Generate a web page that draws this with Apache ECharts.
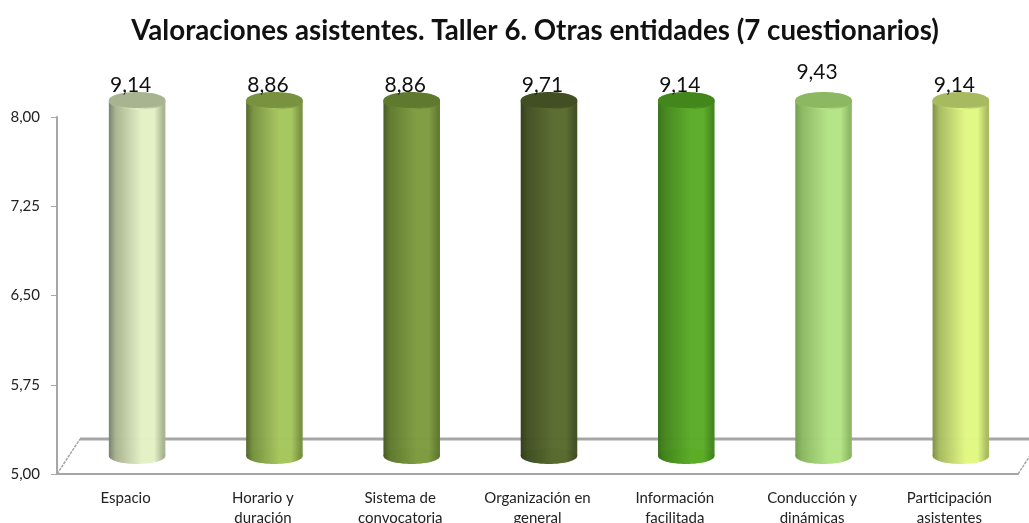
<!DOCTYPE html>
<html>
<head>
<meta charset="utf-8">
<style>
  html, body { margin: 0; padding: 0; background: #fff; }
  #chart { width: 1029px; height: 523px; }
</style>
<script src="https://cdn.jsdelivr.net/npm/echarts@6/dist/echarts.min.js"></script>
</head>
<body>
<div id="chart"></div>
<script>
const categories = ['Espacio', 'Horario y\nduración', 'Sistema de\nconvocatoria', 'Organización en\ngeneral',
  'Información\nfacilitada', 'Conducción y\ndinámicas', 'Participación\nasistentes'];
const values = [9.14, 8.86, 8.86, 9.71, 9.14, 9.43, 9.14];
const yTicks = [5, 5.75, 6.5, 7.25, 8];

const edgeColors = ['#76806a', '#4f6628', '#465822', '#323d18', '#37701a', '#6f9f4a', '#7f8e44'];
const midColors = ['#e4f1c6', '#a6c65e', '#7f9c41', '#5a6b2f', '#5cac28', '#b4e486', '#e0f884'];
const lidColors = ['#a8b490', '#78923f', '#5f7a2e', '#414f22', '#43861b', '#8cb862', '#a8ba60'];

const chart = echarts.init(document.getElementById('chart'), null, { renderer: 'canvas' });
const fmt = v => v.toFixed(2).replace('.', ',');
const yMax = yTicks[yTicks.length - 1];
const lineGrey = '#a6a6a6';

// 3d floor, drawn behind the bars
function renderFloor(params, api) {
  const cs = params.coordSys;
  const left = cs.x, right = cs.x + cs.width, bottom = cs.y + cs.height;
  const dx = 23, dy = 35;
  return {
    type: 'group',
    children: [
      { type: 'line', shape: { x1: left + dx, y1: bottom - dy, x2: right + dx, y2: bottom - dy },
        style: { stroke: lineGrey, lineWidth: 3 } },
      { type: 'line', shape: { x1: left, y1: bottom, x2: left + dx, y2: bottom - dy },
        style: { stroke: lineGrey, lineWidth: 1.5, lineDash: [3, 1] } },
      { type: 'line', shape: { x1: right, y1: bottom, x2: right + dx, y2: bottom - dy },
        style: { stroke: lineGrey, lineWidth: 1.5, lineDash: [3, 1] } }
    ]
  };
}

// cylinder standing half way into the floor, cut off at the axis max
function renderBar(params, api) {
  const i = params.dataIndex;
  const value = api.value(1);
  const base = api.coord([api.value(0), yTicks[0]]);
  const top = api.coord([api.value(0), Math.min(value, yMax)]);
  const band = api.size([1, 0])[0];
  const rx = band * 0.206, ry = 8;
  const cx = base[0] + 11.5;
  const y0 = base[1] - 18, y1 = top[1] - 17;
  const body = new echarts.graphic.LinearGradient(0, 0, 1, 0, [
    { offset: 0, color: edgeColors[i] },
    { offset: 0.12, color: lidColors[i] },
    { offset: 0.58, color: midColors[i] },
    { offset: 0.8, color: midColors[i] },
    { offset: 0.96, color: lidColors[i] },
    { offset: 1, color: lidColors[i] }
  ]);
  const rim = new echarts.graphic.LinearGradient(0, 0, 1, 0, [
    { offset: 0.1, color: lidColors[i] },
    { offset: 0.5, color: midColors[i] },
    { offset: 0.9, color: lidColors[i] }
  ]);
  const raised = i === 5 ? 13 : 0;
  return {
    type: 'group',
    children: [
      { type: 'rect', shape: { x: cx - rx, y: y1, width: rx * 2, height: y0 - y1 }, style: { fill: body, opacity: 0.98 } },
      { type: 'ellipse', shape: { cx: cx, cy: y0, rx: rx, ry: ry }, style: { fill: body } },
      { type: 'ellipse', shape: { cx: cx, cy: y1 + 1.5, rx: rx, ry: ry }, style: { fill: rim } },
      { type: 'ellipse', shape: { cx: cx, cy: y1, rx: rx, ry: ry }, style: { fill: lidColors[i] } },
      { type: 'text', x: cx - 6.5, y: top[1] - 32 - raised,
        style: { text: fmt(value), fill: '#111', fontFamily: 'Lato', fontSize: 21,
          align: 'center', verticalAlign: 'middle' } }
    ]
  };
}

chart.setOption({
  animation: false,
  backgroundColor: '#fff',
  title: {
    text: 'Valoraciones asistentes. Taller 6. Otras entidades (7 cuestionarios)',
    left: 530, top: 12, textAlign: 'center',
    textStyle: { fontFamily: 'Lato', fontWeight: 'bold', fontSize: 27.7, color: '#111' }
  },
  grid: { left: 57, right: 11, top: 117, bottom: 49, outerBoundsMode: 'none' },
  xAxis: {
    type: 'category',
    data: categories,
    axisLine: { lineStyle: { color: lineGrey, width: 2 } },
    axisTick: { show: false },
    axisLabel: { margin: 14, fontFamily: 'Lato', fontSize: 15, lineHeight: 20, color: '#222', interval: 0 }
  },
  yAxis: {
    type: 'value',
    min: yTicks[0],
    max: yMax,
    splitLine: { show: false },
    axisLine: { show: true, lineStyle: { color: lineGrey, width: 2 } },
    axisTick: { show: true, length: 6, customValues: yTicks, lineStyle: { color: lineGrey, width: 1 } },
    axisLabel: { customValues: yTicks, margin: 17, fontFamily: 'Lato', fontSize: 15, color: '#222', formatter: v => fmt(v) }
  },
  series: [
    { type: 'custom', z: 1, clip: false, silent: true, renderItem: renderFloor, data: [[0, yTicks[0]]] },
    { type: 'custom', z: 3, clip: false, renderItem: renderBar, data: values.map((v, i) => [i, v]) }
  ]
});
</script>
</body>
</html>
